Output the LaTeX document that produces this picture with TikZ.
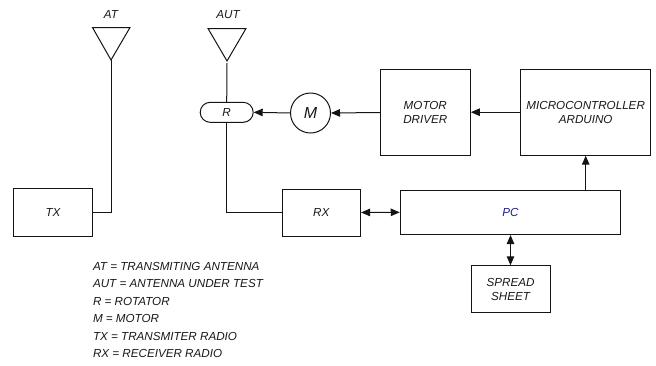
\documentclass[tikz,border=0pt]{standalone}
\usepackage{fontspec}
\setmainfont{Liberation Sans}
\usetikzlibrary{arrows.meta,shapes.misc}
\definecolor{ln}{RGB}{20,20,20}
\tikzset{
 x=1pt,y=-1pt,
 every node/.style={inner sep=0pt,outer sep=0pt,text=black!90,font=\fontsize{11.65}{14}\selectfont\itshape,align=center},
 box/.style={draw=ln,line width=1pt,minimum width=#1},
 wire/.style={draw=ln,line width=1pt},
 arr/.style={wire,-{Triangle[length=9pt,width=7.5pt]},shorten >=0.5pt},
 darr/.style={wire,{Triangle[length=9pt,width=7.5pt]}-{Triangle[length=9pt,width=7.5pt]},shorten >=0.5pt,shorten <=0.5pt},
 legend/.style={anchor=west},
}
\begin{document}
\begin{tikzpicture}
\useasboundingbox (0,0) rectangle (656,365);
\node[box=78.5pt,minimum height=48pt] (tx) at (53,212) {TX};
\node[box=78.5pt,minimum height=47pt] (rx) at (321.3,212.5) {RX};
\node[box=220.5pt,minimum height=44.5pt] (pc) at (510.5,212.3) {\textcolor[RGB]{30,30,150}{PC}};
\node[box=90pt,minimum height=86.5pt] (driver) at (425.3,112.5) {MOTOR\\DRIVER};
\node[box=130.5pt,minimum height=86pt] (micro) at (585.7,112.2) {MICROCONTROLLER\\ARDUINO};
\node[box=79pt,minimum height=46.5pt] (sheet) at (510.5,289) {SPREAD\\SHEET};
\node[draw=ln,line width=1pt,circle,minimum size=40pt,font=\fontsize{16}{16}\selectfont\itshape] (m) at (310.5,113) {M};
\node[draw=ln,line width=1pt,rounded rectangle,minimum width=53pt,minimum height=20pt] (r) at (226.7,112.3) {R};
% antennas
\coordinate (attip) at (111,60);
\coordinate (auttip) at (227,61);
\coordinate (autfeed) at (227,63);
\draw[wire,line join=miter] (92.5,27.5) -- (130,27.5) -- (attip) -- cycle;
\draw[wire,line join=miter] (208,28.5) -- (246,28.5) -- (auttip) -- cycle;
\node (atl) at (111,14.5) {AT};
\node (autl) at (228,14.5) {AUT};
% connectors
\draw[wire] (attip) |- (tx.east);
\draw[wire] (autfeed) -- (r.north);
\draw[wire] (r.south) |- (rx.west);
\draw[arr] (m.west) -- (r.east);
\draw[arr] (driver.west) -- (m.east);
\draw[arr] (micro.west) -- (driver.east |- micro.west);
\draw[arr] (pc.north -| micro.south) -- (micro.south);
\draw[darr] (rx.east) -- (pc.west);
\draw[darr] (pc.south) -- (sheet.north);
% legend
\node[legend] (l1) at (93,266) {AT = TRANSMITING ANTENNA};
\node[legend] (l2) at (93,283.5) {AUT = ANTENNA UNDER TEST};
\node[legend] (l3) at (93,301) {R = ROTATOR};
\node[legend] (l4) at (93,318.5) {M = MOTOR};
\node[legend] (l5) at (93,336) {TX = TRANSMITER RADIO};
\node[legend] (l6) at (93,353) {RX = RECEIVER RADIO};
\end{tikzpicture}
\end{document}
